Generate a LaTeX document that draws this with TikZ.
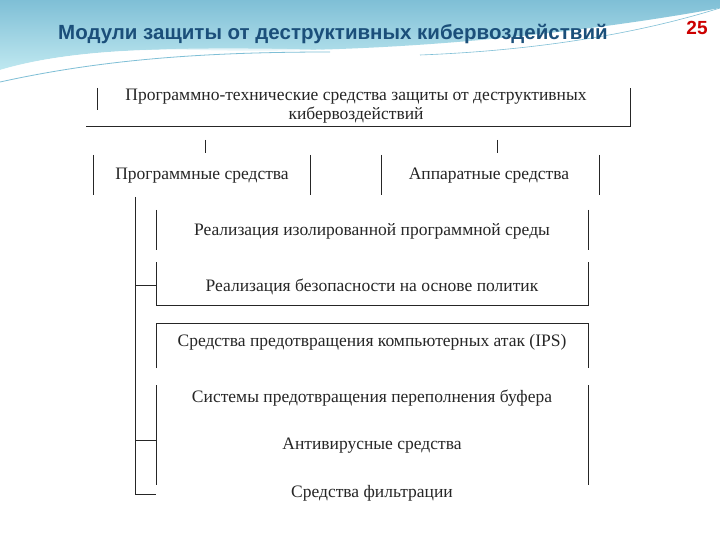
\documentclass[tikz,border=0pt]{standalone}
\usepackage{fontspec}
\setmainfont{Liberation Serif}
\newfontfamily\hdfont{Liberation Sans}
\definecolor{hdtop}{HTML}{7FBFD6}
\definecolor{hdbot}{HTML}{BFE8F0}
\definecolor{ttl}{HTML}{1B4F7A}
\begin{document}
\begin{tikzpicture}[x=1pt,y=-1pt,
  ln/.style={line width=1pt,black!85},
  lbl/.style={font=\fontsize{17.5}{19}\selectfont,text=black!85,inner sep=0pt}]
\useasboundingbox (0,0) rectangle (720,540);
\fill[white] (0,0) rectangle (720,540);
% header band
\shade[top color=hdtop, bottom color=hdbot]
  (0,0) -- (720,0) -- (720,8) .. controls (600,30) and (400,55) .. (200,50) .. controls (120,48) and (50,55) .. (0,70) -- cycle;
\fill[white,opacity=0.7] (0,70) .. controls (60,52) and (150,45) .. (330,50) .. controls (250,58) and (120,60) .. (0,78) -- cycle;
\draw[hdtop,line width=0.8pt] (0,82) .. controls (100,60) and (200,52) .. (330,52);
\draw[hdtop,line width=0.6pt] (420,55) .. controls (550,50) and (650,30) .. (720,8);
\node[font=\hdfont\bfseries\fontsize{20.5}{22}\selectfont,text=ttl,anchor=west,inner sep=0pt] (title) at (58,34) {Модули защиты от деструктивных кибервоздействий};
\node[font=\hdfont\bfseries\fontsize{19}{21}\selectfont,text=red!80!black,inner sep=0pt] (num) at (697,28) {25};
% top box
\draw[ln] (97,88) -- (97,110);
\draw[ln] (86,127) -- (630,127) -- (630,88);
\node[lbl,align=center] (top) at (356,106) {Программно-технические средства защиты от деструктивных\\кибервоздействий};
\draw[ln] (205,140) -- (205,153);
\draw[ln] (497,140) -- (497,153);
% second row
\foreach \x in {93,310,381,599} \draw[ln] (\x,155) -- (\x,195);
\node[lbl] (prog) at (202,176) {Программные средства};
\node[lbl] (hw) at (489,176) {Аппаратные средства};
% trunk
\draw[ln] (135,197) -- (135,494) -- (156,494);
% group 1
\draw[ln] (156,210) -- (156,250); \draw[ln] (588,210) -- (588,250);
\node[lbl] (b1) at (372,231) {Реализация изолированной программной среды};
\draw[ln] (156,262) -- (156,305) -- (588,305) -- (588,262);
\node[lbl] (b2) at (372,287) {Реализация безопасности на основе политик};
\draw[ln] (135,285) -- (156,285);
% group 2
\draw[ln] (156,368) -- (156,323) -- (588,323) -- (588,368);
\node[lbl] (b3) at (372,342) {Средства предотвращения компьютерных атак (IPS)};
\draw[ln] (156,385) -- (156,430); \draw[ln] (588,385) -- (588,430);
\node[lbl] (b4) at (372,398) {Системы предотвращения переполнения буфера};
\draw[ln] (156,430) -- (156,485); \draw[ln] (588,430) -- (588,485);
\node[lbl] (b5) at (372,446) {Антивирусные средства};
\draw[ln] (135,440) -- (156,440);
\node[lbl] (b6) at (372,493) {Средства фильтрации};
\end{tikzpicture}
\end{document}
